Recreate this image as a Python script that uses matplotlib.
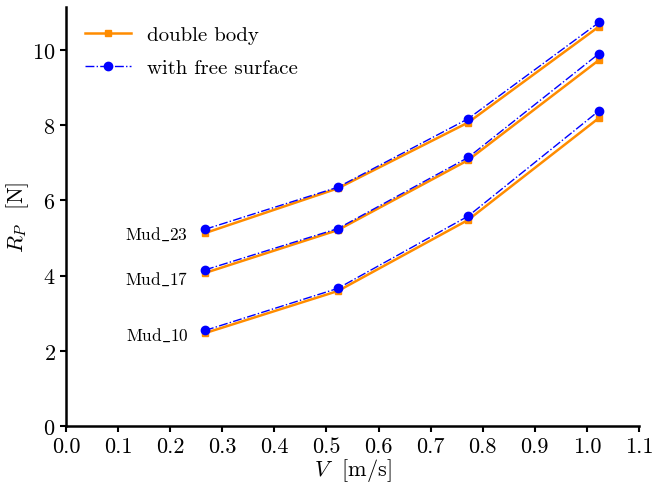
import matplotlib
matplotlib.use('Agg')
import matplotlib.pyplot as plt

plt.rcParams['font.family'] = ['cmr10', 'DejaVu Serif']
plt.rcParams['mathtext.fontset'] = 'cm'
plt.rcParams['axes.formatter.use_mathtext'] = True
plt.rcParams['font.size'] = 16

# speeds [m/s]
V = [0.267, 0.522, 0.772, 1.023]
# resistance [N], per case
names = ['Mud\\_10', 'Mud\\_17', 'Mud\\_23']
double_body = [[2.47, 3.59, 5.48, 8.19],
               [4.07, 5.21, 7.07, 9.73],
               [5.13, 6.32, 8.07, 10.62]]
free_surface = [[2.54, 3.66, 5.58, 8.38],
                [4.15, 5.25, 7.14, 9.90],
                [5.23, 6.35, 8.17, 10.73]]
label_y = [2.45, 3.93, 5.13]

fig = plt.figure(figsize=(6.53, 4.85), dpi=100)
ax = fig.add_axes([0.101, 0.1196, 0.8776, 0.864])
for i in range(len(names)):
    ax.plot(V, double_body[i], 's-', color='darkorange', linewidth=1.8, markersize=5,
            label='double body' if i == 0 else None)
    ax.plot(V, free_surface[i], 'o-.', color='blue', linewidth=1.0, markersize=6,
            label='with free surface' if i == 0 else None)
    ax.text(0.235, label_y[i], r'$\mathrm{' + names[i] + '}$', ha='right', va='center', fontsize=12.5)

ax.set_xlim(0, 1.1)
ax.set_ylim(bottom=0)
ax.set_xticks([0.1 * k for k in range(12)])
ax.set_xticklabels(['%.1f' % (0.1 * k) for k in range(12)])
ax.set_xlabel(r'$V$  [m/s]', labelpad=0)
ax.set_ylabel(r'$R_P$  [N]', labelpad=1)
ax.spines['top'].set_visible(False)
ax.spines['right'].set_visible(False)
for s in ['left', 'bottom']:
    ax.spines[s].set_linewidth(1.8)
ax.tick_params(width=1.5, length=4)
ax.legend(loc='upper left', frameon=False, fontsize=15, handlelength=2.2,
          borderaxespad=0.5, labelspacing=0.7)
fig.savefig('out.png', dpi=100)
